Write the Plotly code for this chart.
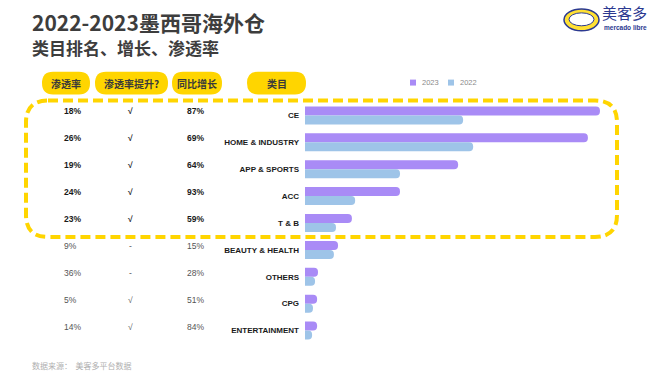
import plotly.graph_objects as go

categories = ["CE", "HOME & INDUSTRY", "APP & SPORTS", "ACC", "T & B",
              "BEAUTY & HEALTH", "OTHERS", "CPG", "ENTERTAINMENT"]
years = ["2023", "2022"]
sales_2023 = [100, 95.9, 51.9, 32.2, 15.9, 11.2, 4.4, 4.1, 4.1]
sales_2022 = [53.6, 57.0, 32.2, 17.0, 10.5, 9.8, 3.4, 2.7, 2.4]
penetration = ["18%", "26%", "19%", "24%", "23%", "9%", "36%", "5%", "14%"]
pen_up = ["√", "√", "√", "√", "√", "-", "-", "√", "√"]
yoy_growth = ["87%", "69%", "64%", "93%", "59%", "15%", "28%", "51%", "84%"]
headers = ["渗透率", "渗透率提升?", "同比增长", "类目"]

W, H = 660, 375
ML, MR, MT, MB = 305, 40, 101.5, 30.5
PW, PH = W - ML - MR, H - MT - MB

def px_x(px):
    return (px - ML) / PW

def px_y(py):
    return (H - MB - py) / PH

PURPLE = "#A98BF6"
BLUE = "#9EC4E8"
YELLOW = "#FFD500"
CJK = "Noto Sans CJK SC"
colors = [PURPLE, BLUE]

fig = go.Figure()
for name, vals, col in zip(years, [sales_2023, sales_2022], colors):
    fig.add_trace(go.Bar(y=categories, x=vals, name=name, orientation="h",
                         marker=dict(color=col, line=dict(width=0))))

annotations = []
shapes = []
# title
annotations.append(dict(text="<b>2022-2023墨西哥海外仓</b>", x=px_x(30), y=px_y(21),
                        xref="paper", yref="paper", xanchor="left", yanchor="middle",
                        showarrow=False, font=dict(family=CJK, size=21, color="#3d3d3d")))
annotations.append(dict(text="<b>类目排名、增长、渗透率</b>", x=px_x(30), y=px_y(47),
                        xref="paper", yref="paper", xanchor="left", yanchor="middle",
                        showarrow=False, font=dict(family=CJK, size=17, color="#3d3d3d")))
# footer
annotations.append(dict(text="数据来源：  美客多平台数据", x=px_x(30), y=px_y(366),
                        xref="paper", yref="paper", xanchor="left", yanchor="middle",
                        showarrow=False, font=dict(family=CJK, size=8, color="#b0b0b0")))
# logo text
annotations.append(dict(text="美客多", x=px_x(601), y=px_y(11.5),
                        xref="paper", yref="paper", xanchor="left", yanchor="middle",
                        borderpad=0, showarrow=False,
                        font=dict(family=CJK, size=15, color="#2b3990")))
annotations.append(dict(text="<b>mercado libre</b>", x=px_x(603), y=px_y(27),
                        xref="paper", yref="paper", xanchor="left", yanchor="middle",
                        borderpad=0, showarrow=False,
                        font=dict(family="Liberation Sans", size=6.5, color="#2b3990")))

# manual legend
for (sx, name, col) in zip([410, 448], years, colors):
    shapes.append(dict(type="rect", xref="paper", yref="paper",
                       x0=px_x(sx), x1=px_x(sx + 6), y0=px_y(79), y1=px_y(85),
                       fillcolor=col, line=dict(width=0)))
    annotations.append(dict(text=name, x=px_x(sx + 10), y=px_y(82),
                            xref="paper", yref="paper", xanchor="left", yanchor="middle",
                            showarrow=False,
                            font=dict(family="Liberation Sans", size=7.5, color="#8a8a8a")))

# header pills
pills = [(42, 90), (95, 168), (172, 222), (247, 306)]
for (x0, x1), h in zip(pills, headers):
    shapes.append(dict(type="path", xref="paper", yref="paper",
                       path=(f"M {px_x(x0+11)},{px_y(71)} L {px_x(x1-11)},{px_y(71)} "
                             f"Q {px_x(x1)},{px_y(71)} {px_x(x1)},{px_y(82.5)} "
                             f"Q {px_x(x1)},{px_y(94)} {px_x(x1-11)},{px_y(94)} "
                             f"L {px_x(x0+11)},{px_y(94)} "
                             f"Q {px_x(x0)},{px_y(94)} {px_x(x0)},{px_y(82.5)} "
                             f"Q {px_x(x0)},{px_y(71)} {px_x(x0+11)},{px_y(71)} Z"),
                       fillcolor=YELLOW, line=dict(width=0), layer="below"))
    annotations.append(dict(text=f"<b>{h}</b>", x=px_x((x0 + x1) / 2), y=px_y(82.5),
                            xref="paper", yref="paper", xanchor="center", yanchor="middle",
                            showarrow=False, font=dict(family=CJK, size=10, color="#3a3a3a")))

# dashed rounded box
bx0, bx1, by0, by1, r = 26, 617, 100, 237, 22
path = (f"M {px_x(bx0+r)},{px_y(by0)} L {px_x(bx1-r)},{px_y(by0)} "
        f"Q {px_x(bx1)},{px_y(by0)} {px_x(bx1)},{px_y(by0+r)} "
        f"L {px_x(bx1)},{px_y(by1-r)} "
        f"Q {px_x(bx1)},{px_y(by1)} {px_x(bx1-r)},{px_y(by1)} "
        f"L {px_x(bx0+r)},{px_y(by1)} "
        f"Q {px_x(bx0)},{px_y(by1)} {px_x(bx0)},{px_y(by1-r)} "
        f"L {px_x(bx0)},{px_y(by0+r)} "
        f"Q {px_x(bx0)},{px_y(by0)} {px_x(bx0+r)},{px_y(by0)} Z")
shapes.append(dict(type="path", xref="paper", yref="paper", path=path,
                   line=dict(color=YELLOW, width=4, dash="10px,5px"), layer="below"))

# logo ellipse
shapes.append(dict(type="circle", xref="paper", yref="paper",
                   x0=px_x(564), x1=px_x(599), y0=px_y(8), y1=px_y(30),
                   fillcolor="#FFE033", line=dict(color="#2b3990", width=1.5)))
shapes.append(dict(type="circle", xref="paper", yref="paper",
                   x0=px_x(569), x1=px_x(594), y0=px_y(12), y1=px_y(25),
                   fillcolor="#ffffff", line=dict(color="#2b3990", width=1)))

# table values
for i, c in enumerate(categories):
    top = i < 5
    col = "#1a1a1a" if top else "#555555"
    def fmt(t):
        return f"<b>{t}</b>" if top else t
    for xpx, vals, anchor in [(62, penetration, "left"), (130, pen_up, "center"),
                              (185, yoy_growth, "left")]:
        annotations.append(dict(text=fmt(vals[i]), x=px_x(xpx), y=c,
                                xref="paper", yref="y", xanchor=anchor, yanchor="middle",
                                yshift=4, showarrow=False,
                                font=dict(family="Liberation Sans", size=8.5, color=col)))

fig.update_layout(
    width=W, height=H,
    margin=dict(l=ML, r=MR, t=MT, b=MB, pad=0),
    paper_bgcolor="white", plot_bgcolor="white",
    barmode="group", bargap=0.33, bargroupgap=0, barcornerradius=4,
    showlegend=False,
    xaxis=dict(range=[0, 106.8], showgrid=False, zeroline=False, showticklabels=False,
               showline=False, fixedrange=True),
    yaxis=dict(autorange="reversed", showgrid=False, zeroline=False, showline=False,
               ticks="", ticklabelstandoff=5,
               tickfont=dict(family="Liberation Sans", size=8, color="#1a1a1a", weight="bold")),
    shapes=shapes, annotations=annotations,
)

fig.write_html("out.html", config={"displayModeBar": False},
               post_script="document.body.style.margin='0';")
